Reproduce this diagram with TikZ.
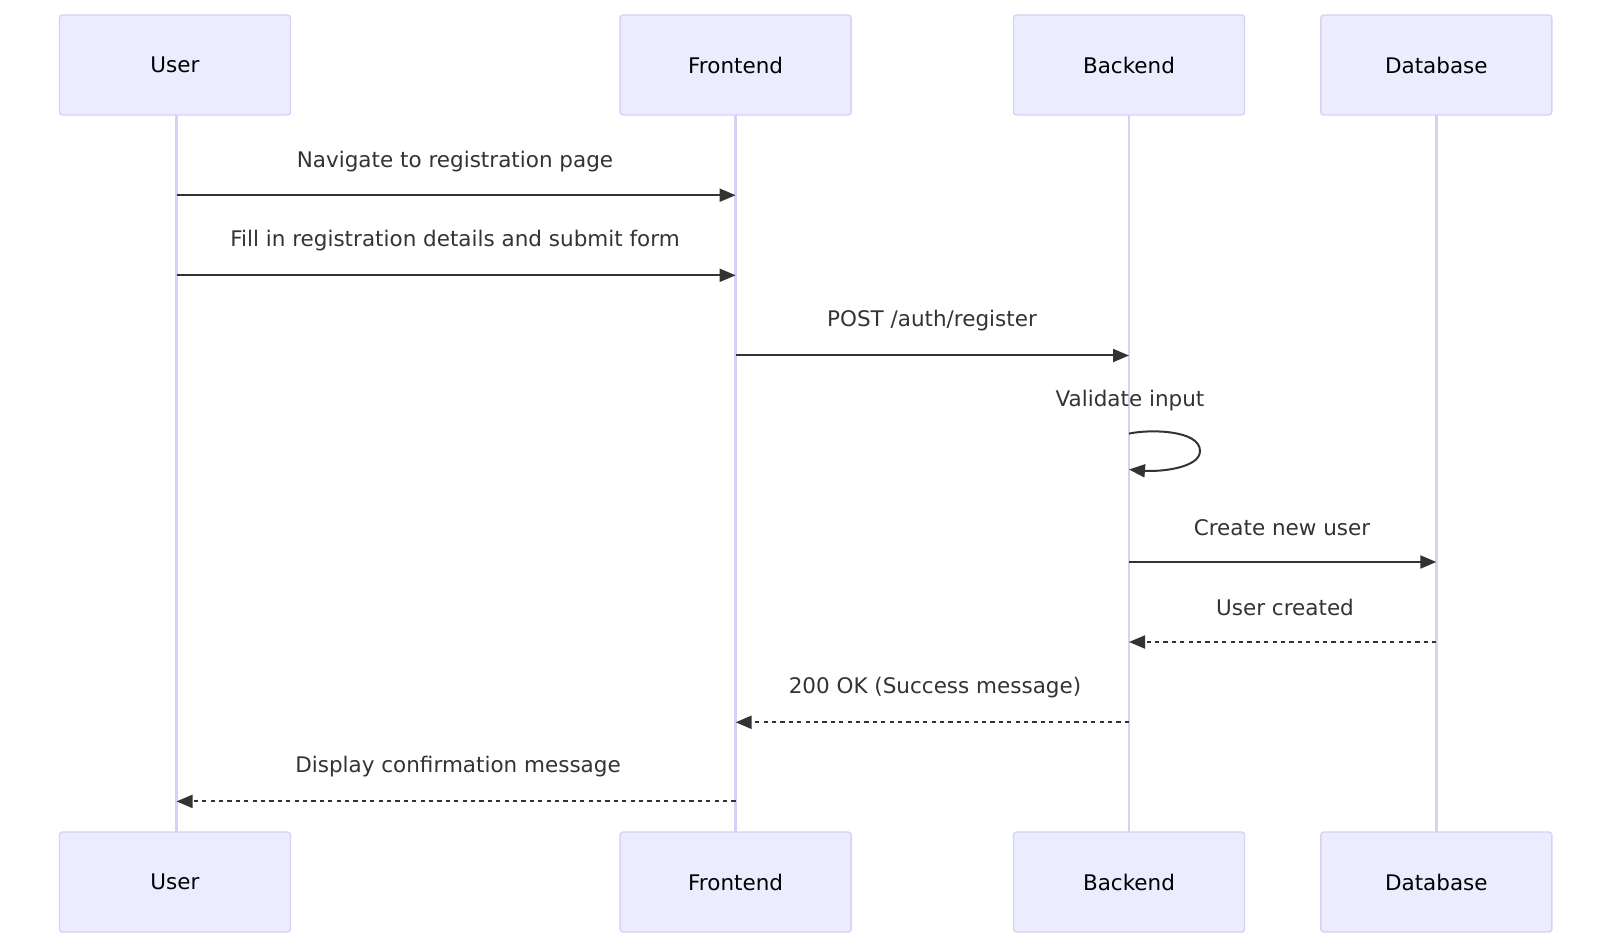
\documentclass[tikz,border=0pt]{standalone}
\usepackage{fontspec}
\setmainfont{DejaVu Sans}
\usetikzlibrary{arrows.meta}
\definecolor{actfill}{HTML}{ECECFF}
\definecolor{actline}{HTML}{D9D0F5}
\definecolor{msg}{HTML}{333333}
\tikzset{
  actor/.style={draw=actline, fill=actfill, line width=1.4pt, rounded corners=3pt, minimum width=231pt, minimum height=100pt, inner sep=0pt, font=\fontsize{21.5}{24}\selectfont, text=black},
  life/.style={draw=actline, line width=2.4pt},
  msgline/.style={draw=msg, line width=2pt, -{Triangle[length=16pt,width=13pt]}},
  reply/.style={msgline, dash pattern=on 4.2pt off 4.2pt},
  lbl/.style={font=\fontsize{21.5}{24}\selectfont, text=msg, anchor=center}
}
\begin{document}
\begin{tikzpicture}[x=1pt,y=-1pt]
\useasboundingbox (0,0) rectangle (1611,949);
% lifelines
\foreach \x in {176.5,735.6,1129,1436.3}{
  \draw[life] (\x,115) -- (\x,832);
}
\node[actor] (u1) at (175,65) {User};
\node[actor] (f1) at (735.6,65) {Frontend};
\node[actor] (b1) at (1129,65) {Backend};
\node[actor] (d1) at (1436.3,65) {Database};
\node[actor] (u2) at (175,882) {User};
\node[actor] (f2) at (735.6,882) {Frontend};
\node[actor] (b2) at (1129,882) {Backend};
\node[actor] (d2) at (1436.3,882) {Database};
% message anchors
\coordinate (u-1) at (176.5,195.2); \coordinate (f-1) at (735.6,195.2);
\coordinate (u-2) at (176.5,275.3); \coordinate (f-2) at (735.6,275.3);
\coordinate (f-3) at (735.6,355.5); \coordinate (b-3) at (1129,355.5);
\coordinate (b-4a) at (1129,433.6); \coordinate (b-4b) at (1129,469.5);
\coordinate (b-5) at (1129,562); \coordinate (d-5) at (1436.3,562);
\coordinate (b-6) at (1129,642); \coordinate (d-6) at (1436.3,642);
\coordinate (f-7) at (735.6,722.3); \coordinate (b-7) at (1129,722.3);
\coordinate (u-8) at (176.5,801.4); \coordinate (f-8) at (735.6,801.4);
% messages
\draw[msgline] (u-1) -- (f-1);
\node[lbl] (l1) at (455,161.3) {Navigate to registration page};
\draw[msgline] (u-2) -- (f-2);
\node[lbl] (l2) at (455,240.4) {Fill in registration details and submit form};
\draw[msgline] (f-3) -- (b-3);
\node[lbl] (l3) at (932,320.5) {POST /auth/register};
\draw[msgline] (b-4a) .. controls (1150,429) and (1200,430) .. (1200,451) .. controls (1200,468) and (1160,472) .. (b-4b);
\node[lbl] (l4) at (1130,400.7) {Validate input};
\draw[msgline] (b-5) -- (d-5);
\node[lbl] (l5) at (1282,528) {Create new user};
\draw[reply] (d-6) -- (b-6);
\node[lbl] (l6) at (1285,607.2) {User created};
\draw[reply] (b-7) -- (f-7);
\node[lbl] (l7) at (935,687.3) {200 OK (Success message)};
\draw[reply] (f-8) -- (u-8);
\node[lbl] (l8) at (458,766.4) {Display confirmation message};
\end{tikzpicture}
\end{document}
